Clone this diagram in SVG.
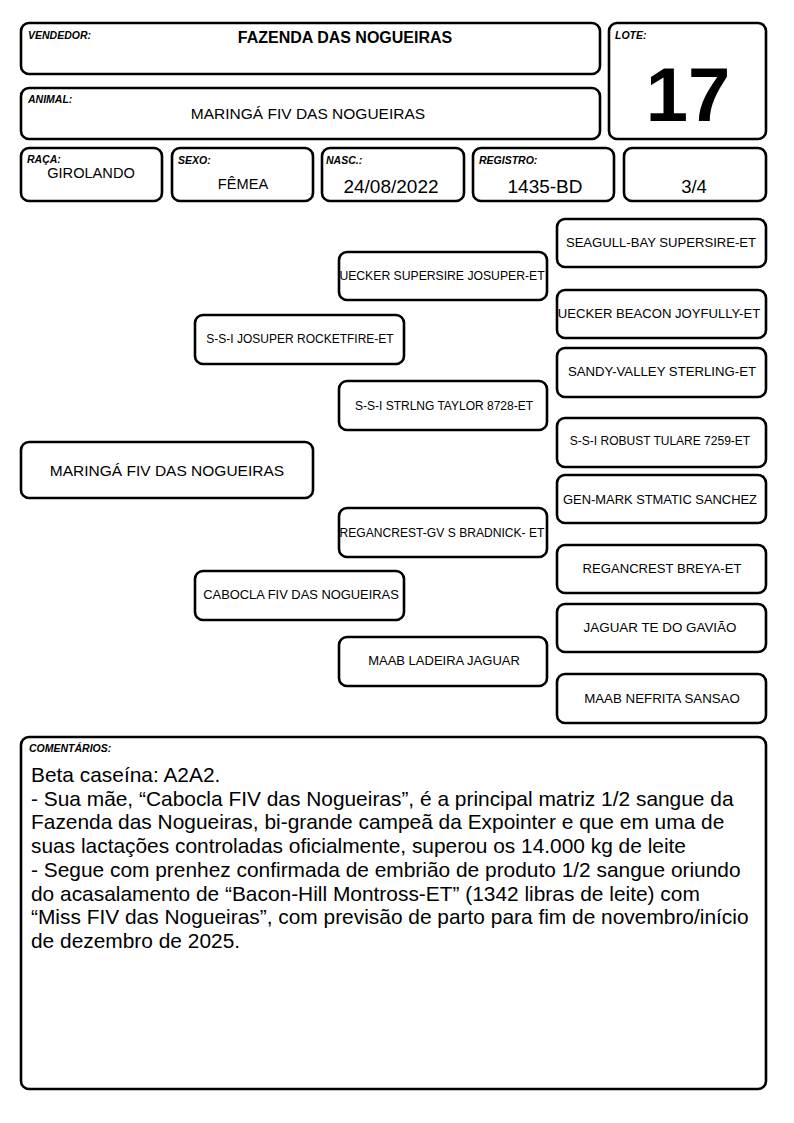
<svg xmlns="http://www.w3.org/2000/svg" width="794" height="1123" viewBox="0 0 794 1123">
<style>
.box{fill:#fff;stroke:#000;stroke-width:2.6}
.lbl{font-family:"Liberation Sans",Arial,sans-serif;font-size:10.5px;font-weight:bold;font-style:italic}
.t{font-family:"Liberation Sans",Arial,sans-serif;fill:#000}
.c{text-anchor:middle}
.cm{font-family:"Liberation Sans",Arial,sans-serif;font-size:20.9px}
</style>
<rect width="794" height="1123" fill="#fff"/>
<g id="vendedor"><rect class="box" x="21" y="23" width="579" height="51" rx="8"/><text class="lbl" x="28" y="39">VENDEDOR:</text><text class="t c" x="345" y="43" font-size="16" font-weight="bold">FAZENDA DAS NOGUEIRAS</text></g>
<g id="animal"><rect class="box" x="21" y="88" width="579" height="51" rx="8"/><text class="lbl" x="28" y="103">ANIMAL:</text><text class="t c" x="308" y="119" font-size="15.5">MARINGÁ FIV DAS NOGUEIRAS</text></g>
<g id="lote"><rect class="box" x="609" y="23" width="157" height="116" rx="8"/><text class="lbl" x="615" y="39">LOTE:</text><text class="t c" x="688" y="121" font-size="76" font-weight="bold">17</text></g>
<g id="raca"><rect class="box" x="21" y="148" width="141" height="53" rx="8"/><text class="lbl" x="27" y="163">RAÇA:</text><text class="t c" x="91" y="178" font-size="14.6">GIROLANDO</text></g>
<g id="sexo"><rect class="box" x="172" y="148" width="141" height="53" rx="8"/><text class="lbl" x="178" y="164">SEXO:</text><text class="t c" x="243" y="189" font-size="14.6">FÊMEA</text></g>
<g id="nasc"><rect class="box" x="322" y="148" width="142" height="53" rx="8"/><text class="lbl" x="326" y="164">NASC.:</text><text class="t c" x="391" y="193" font-size="19">24/08/2022</text></g>
<g id="registro"><rect class="box" x="473" y="148" width="141" height="53" rx="8"/><text class="lbl" x="479" y="164">REGISTRO:</text><text class="t c" x="545" y="193" font-size="19">1435-BD</text></g>
<g id="grau"><rect class="box" x="624" y="148" width="142" height="53" rx="8"/><text class="t c" x="694" y="193" font-size="18.5">3/4</text></g>
<g id="connectors"></g>
<g id="main"><rect class="box" x="21" y="442" width="292" height="56" rx="8"/><text class="t c" x="167" y="476" font-size="15.5">MARINGÁ FIV DAS NOGUEIRAS</text></g>
<g id="sire"><rect class="box" x="195" y="315" width="209" height="49" rx="8"/><text class="t c" x="300" y="343" font-size="12">S-S-I JOSUPER ROCKETFIRE-ET</text></g>
<g id="dam"><rect class="box" x="195" y="571" width="209" height="49" rx="8"/><text class="t c" x="301" y="599" font-size="12.9">CABOCLA FIV DAS NOGUEIRAS</text></g>
<g id="ss"><rect class="box" x="339" y="252" width="208" height="48" rx="8"/><text class="t c" x="442" y="280" font-size="12.2">UECKER SUPERSIRE JOSUPER-ET</text></g>
<g id="sd"><rect class="box" x="339" y="381" width="208" height="49" rx="8"/><text class="t c" x="444" y="410" font-size="12">S-S-I STRLNG TAYLOR 8728-ET</text></g>
<g id="ds"><rect class="box" x="339" y="508" width="208" height="49" rx="8"/><text class="t c" x="442" y="537" font-size="12.1">REGANCREST-GV S BRADNICK- ET</text></g>
<g id="dd"><rect class="box" x="339" y="637" width="208" height="49" rx="8"/><text class="t c" x="444" y="665" font-size="13">MAAB LADEIRA JAGUAR</text></g>
<g id="sss"><rect class="box" x="557" y="219" width="209" height="48" rx="8"/><text class="t c" x="661" y="247" font-size="13.1">SEAGULL-BAY SUPERSIRE-ET</text></g>
<g id="ssd"><rect class="box" x="557" y="290" width="209" height="48" rx="8"/><text class="t c" x="659" y="318" font-size="13.1">UECKER BEACON JOYFULLY-ET</text></g>
<g id="sds"><rect class="box" x="557" y="348" width="209" height="49" rx="8"/><text class="t c" x="662" y="376" font-size="13.2">SANDY-VALLEY STERLING-ET</text></g>
<g id="sdd"><rect class="box" x="557" y="418" width="209" height="49" rx="8"/><text class="t c" x="660" y="445" font-size="12">S-S-I ROBUST TULARE 7259-ET</text></g>
<g id="dss"><rect class="box" x="557" y="475" width="209" height="48" rx="8"/><text class="t c" x="660" y="504" font-size="12.9">GEN-MARK STMATIC SANCHEZ</text></g>
<g id="dsd"><rect class="box" x="557" y="545" width="209" height="48" rx="8"/><text class="t c" x="662" y="573" font-size="13.1">REGANCREST BREYA-ET</text></g>
<g id="dds"><rect class="box" x="557" y="604" width="209" height="48" rx="8"/><text class="t c" x="660" y="632" font-size="13.4">JAGUAR TE DO GAVIÃO</text></g>
<g id="ddd"><rect class="box" x="557" y="674" width="209" height="49" rx="8"/><text class="t c" x="662" y="703" font-size="13.3">MAAB NEFRITA SANSAO</text></g>
<g id="comentarios"><rect class="box" x="21" y="737" width="745" height="352" rx="8"/><text class="lbl" x="29" y="752">COMENTÁRIOS:</text>
<text class="cm" x="31" y="782">Beta caseína: A2A2.</text>
<text class="cm" x="31" y="806">- Sua mãe, “Cabocla FIV das Nogueiras”, é a principal matriz 1/2 sangue da</text>
<text class="cm" x="31" y="829">Fazenda das Nogueiras, bi-grande campeã da Expointer e que em uma de</text>
<text class="cm" x="31" y="853">suas lactações controladas oficialmente, superou os 14.000 kg de leite</text>
<text class="cm" x="31" y="877">- Segue com prenhez confirmada de embrião de produto 1/2 sangue oriundo</text>
<text class="cm" x="31" y="901">do acasalamento de “Bacon-Hill Montross-ET” (1342 libras de leite) com</text>
<text class="cm" x="31" y="924">“Miss FIV das Nogueiras”, com previsão de parto para fim de novembro/início</text>
<text class="cm" x="31" y="948">de dezembro de 2025.</text>
</g>
</svg>
